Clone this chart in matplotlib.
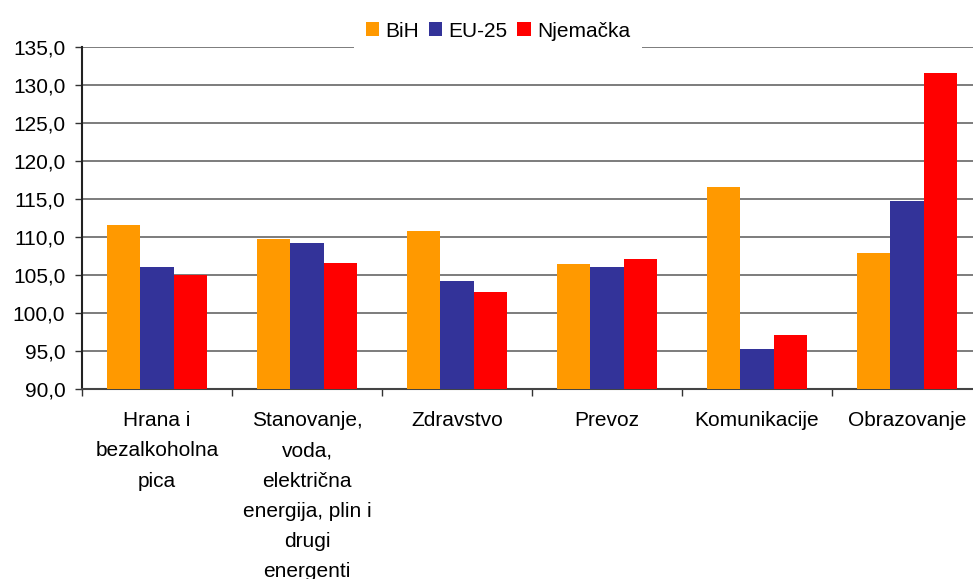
import matplotlib
matplotlib.use("Agg")
import matplotlib.pyplot as plt
import numpy as np
from matplotlib.ticker import FixedLocator, FuncFormatter

categories = ["Hrana i\nbezalkoholna\npica",
              "Stanovanje,\nvoda,\nelektrična\nenergija, plin i\ndrugi\nenergenti",
              "Zdravstvo", "Prevoz", "Komunikacije", "Obrazovanje"]
series_names = ["BiH", "EU-25", "Njemačka"]
bih = [111.6, 109.8, 110.8, 106.4, 116.6, 107.9]
eu25 = [106.1, 109.2, 104.2, 106.1, 95.3, 114.8]
njemacka = [105.0, 106.6, 102.7, 107.1, 97.1, 131.6]
colors = ["#FF9900", "#333399", "#FF0000"]
yticks = [90, 95, 100, 105, 110, 115, 120, 125, 130, 135]

plt.rcParams['font.family'] = ['Liberation Sans', 'DejaVu Sans']
fs = 15

fig = plt.figure(figsize=(9.73, 5.79), dpi=100)
ax = fig.add_axes([82/973, (579-389)/579, 900/973, 342/579])

x = np.arange(len(categories))
w = 0.223
for i, (vals, name) in enumerate(zip([bih, eu25, njemacka], series_names)):
    ax.bar(x + (i - 1) * w, np.array(vals) - 90, bottom=90, width=w,
           color=colors[i], label=name, zorder=3, linewidth=0)

ax.set_xlim(-0.5, len(categories) - 0.5)
ax.set_ylim(90, 135)
ax.set_yticks(yticks)
ax.yaxis.set_major_formatter(FuncFormatter(lambda v, p: f"{v:.1f}".replace('.', ',')))
ax.grid(axis='y', color='#666666', linewidth=1.2, zorder=1)

ax.xaxis.set_major_locator(FixedLocator(np.arange(-0.5, len(categories), 1.0)))
ax.xaxis.set_major_formatter(FuncFormatter(lambda v, p: ""))
ax.set_xticks(x, minor=True)
ax.set_xticklabels(categories, minor=True, fontsize=fs, linespacing=1.75, va='top')
ax.tick_params(axis='x', which='minor', length=0, pad=16)
ax.tick_params(axis='x', which='major', length=5, width=1, color='#333333', direction='out')
ax.tick_params(axis='y', length=5, width=1, color='#333333', direction='out', labelsize=fs, pad=7)

for s in ['top', 'right']:
    ax.spines[s].set_visible(False)
ax.spines['left'].set_color('#222222')
ax.spines['left'].set_linewidth(1.5)
ax.spines['bottom'].set_color('#444444')
ax.spines['bottom'].set_linewidth(1.5)

leg = ax.legend(loc='lower center', bbox_to_anchor=((498 - 82) / 900, 0.985), ncol=3,
                fontsize=fs, frameon=True, fancybox=False, edgecolor='none',
                facecolor='white', framealpha=1.0,
                handlelength=0.65, handleheight=0.65, handletextpad=0.3,
                columnspacing=0.45, borderpad=0.55, borderaxespad=0.0)
leg.set_zorder(5)

fig.savefig("out.png", dpi=100)
